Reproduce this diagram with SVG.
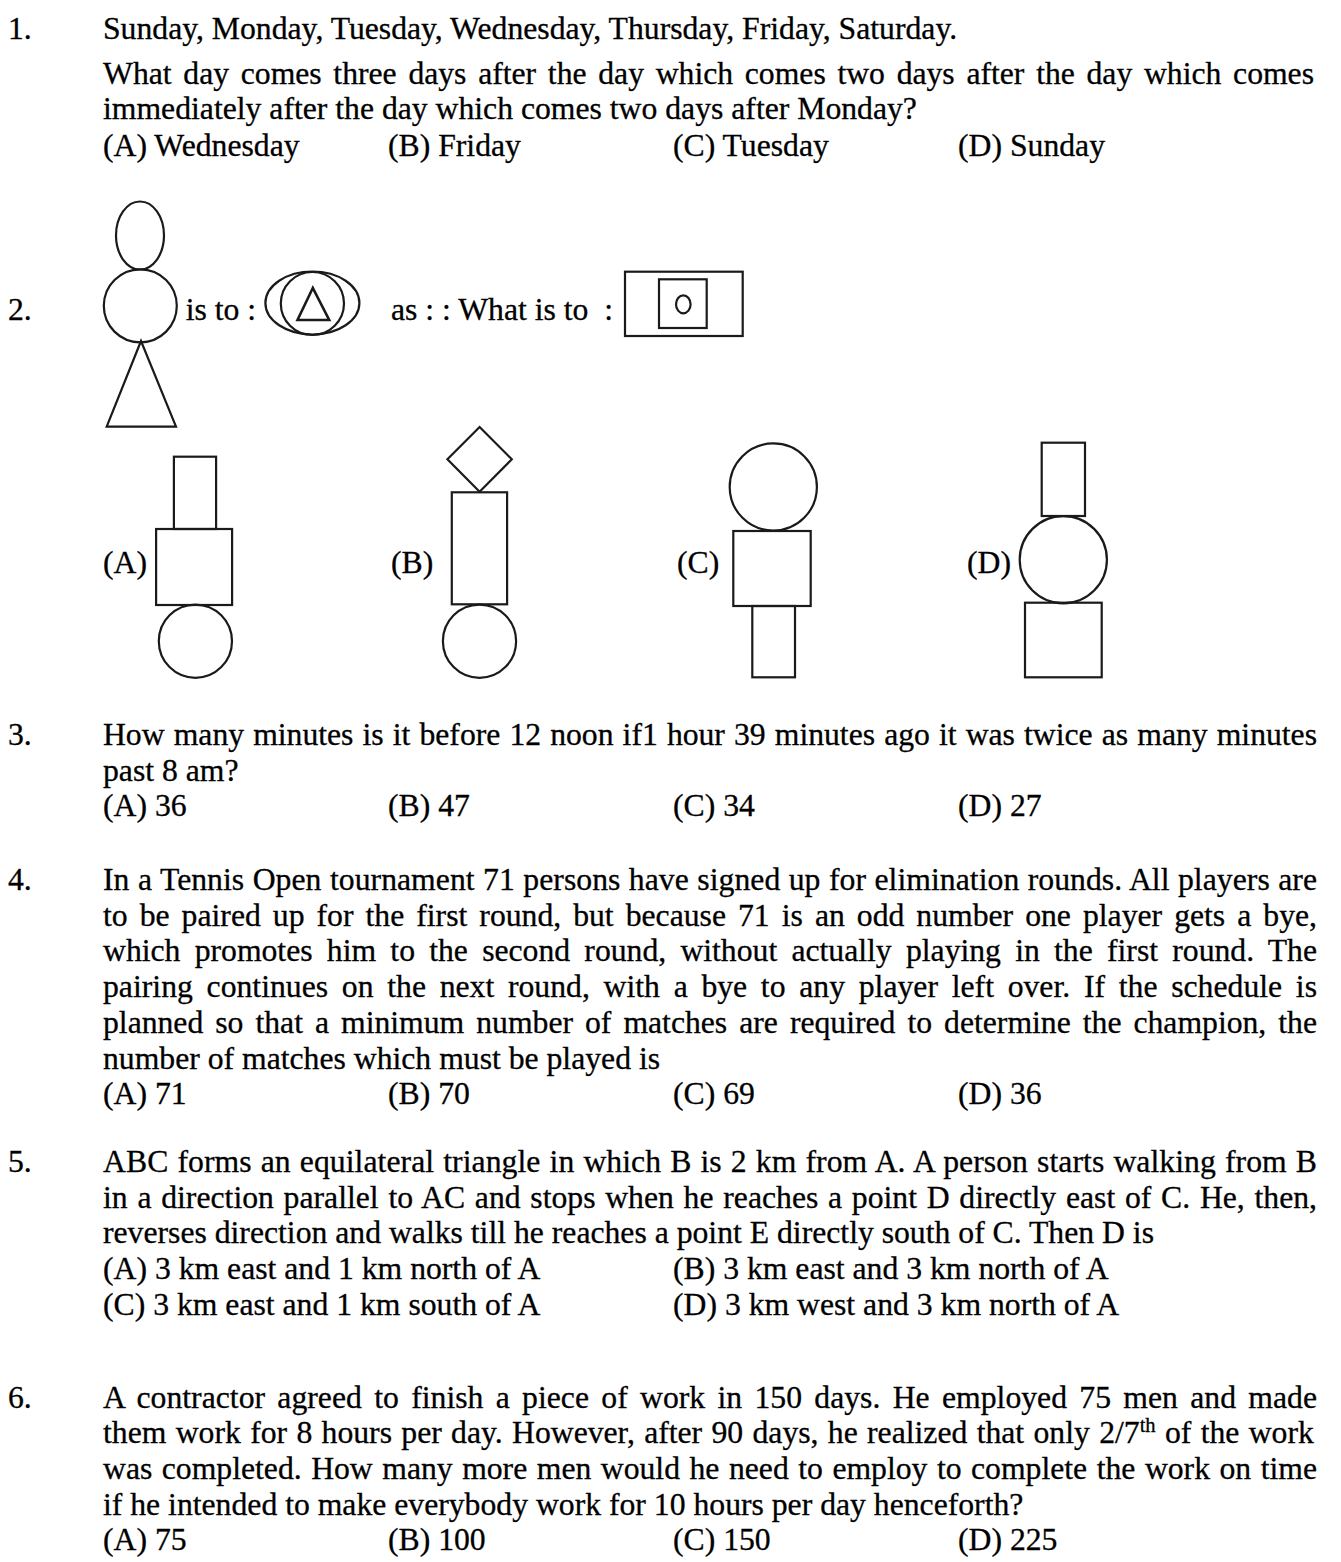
<svg xmlns="http://www.w3.org/2000/svg" width="1341" height="1562" viewBox="0 0 1341 1562">
<style>
.t{font-family:"Liberation Serif","Times New Roman",serif;font-size:31.7px;fill:#000;stroke:#000;stroke-width:0.3}
.s{fill:none;stroke:#1a1a1a;stroke-width:2.2}
.sb{fill:none;stroke:#1a1a1a;stroke-width:2.6}
</style>
<rect width="1341" height="1562" fill="#fff"/>
<g id="q1">
<text class="t" x="8" y="39">1.</text>
<text class="t" x="103" y="39">Sunday, Monday, Tuesday, Wednesday, Thursday, Friday, Saturday.</text>
<text class="t" x="103" y="84" word-spacing="3.8" textLength="1211" lengthAdjust="spacing">What day comes three days after the day which comes two days after the day which comes</text>
<text class="t" x="103" y="119">immediately after the day which comes two days after Monday?</text>
<text class="t" x="103" y="156">(A) Wednesday</text>
<text class="t" x="388" y="156">(B) Friday</text>
<text class="t" x="673" y="156">(C) Tuesday</text>
<text class="t" x="958" y="156">(D) Sunday</text>
</g>
<g id="q2">
<text class="t" x="8" y="320">2.</text>
<g id="q2-figure-question">
<ellipse class="s" cx="140" cy="235.5" rx="24" ry="34"/>
<circle class="s" cx="140.3" cy="305.8" r="36.5"/>
<polygon class="s" points="141,341 106.7,426.7 176,426.7"/>
</g>
<text class="t" x="185.7" y="320">is to :</text>
<g id="q2-figure-ellipses">
<ellipse class="s" cx="312.4" cy="303" rx="47" ry="31.5"/>
<ellipse class="s" cx="312.4" cy="303.5" rx="31.6" ry="31.5"/>
<polygon class="sb" points="312.8,288 297.5,320 329.2,320"/>
</g>
<text class="t" x="391" y="320">as : : What is to &#160;:</text>
<g id="q2-figure-box">
<rect class="s" x="625" y="271.7" width="117.7" height="64.3"/>
<rect class="s" x="659" y="279.3" width="47.7" height="48.7"/>
<ellipse class="s" cx="683.3" cy="304.3" rx="7.3" ry="9"/>
</g>
<g id="q2-option-a">
<text class="t" x="103" y="573">(A)</text>
<rect class="s" x="173.9" y="456.7" width="42.2" height="72.3"/>
<rect class="s" x="156.1" y="529" width="76" height="76"/>
<circle class="s" cx="195.4" cy="641.2" r="36.6"/>
</g>
<g id="q2-option-b">
<text class="t" x="391" y="573">(B)</text>
<polygon class="s" points="479.6,427 511.8,459.3 479.6,491.7 447.4,459.3"/>
<rect class="s" x="451.8" y="492.3" width="55.3" height="112"/>
<circle class="s" cx="479.5" cy="641.2" r="36.6"/>
</g>
<g id="q2-option-c">
<text class="t" x="677" y="573">(C)</text>
<circle class="s" cx="773.3" cy="487" r="43.6"/>
<rect class="s" x="733.3" y="531" width="77.4" height="75"/>
<rect class="s" x="752.3" y="606" width="42.7" height="71.3"/>
</g>
<g id="q2-option-d">
<text class="t" x="967" y="573">(D)</text>
<rect class="s" x="1041.7" y="442.7" width="43.3" height="73.3"/>
<circle class="s" cx="1063.3" cy="559.7" r="43.6"/>
<rect class="s" x="1025" y="602.7" width="76.7" height="74.6"/>
</g>
</g>
<g id="q3">
<text class="t" x="8" y="745">3.</text>
<text class="t" x="103" y="745" word-spacing="1.2" textLength="1214" lengthAdjust="spacing">How many minutes is it before 12 noon if1 hour 39 minutes ago it was twice as many minutes</text>
<text class="t" x="103" y="780.5">past 8 am?</text>
<text class="t" x="103" y="816">(A) 36</text>
<text class="t" x="388" y="816">(B) 47</text>
<text class="t" x="673" y="816">(C) 34</text>
<text class="t" x="958" y="816">(D) 27</text>
</g>
<g id="q4">
<text class="t" x="8" y="890">4.</text>
<text class="t" x="103" y="890" word-spacing="0.5" textLength="1214" lengthAdjust="spacing">In a Tennis Open tournament 71 persons have signed up for elimination rounds. All players are</text>
<text class="t" x="103" y="925.7" word-spacing="4.1" textLength="1214" lengthAdjust="spacing">to be paired up for the first round, but because 71 is an odd number one player gets a bye,</text>
<text class="t" x="103" y="961.4" word-spacing="6.3" textLength="1214" lengthAdjust="spacing">which promotes him to the second round, without actually playing in the first round. The</text>
<text class="t" x="103" y="997.1" word-spacing="5.75" textLength="1214" lengthAdjust="spacing">pairing continues on the next round, with a bye to any player left over. If the schedule is</text>
<text class="t" x="103" y="1032.8" word-spacing="4.1" textLength="1214" lengthAdjust="spacing">planned so that a minimum number of matches are required to determine the champion, the</text>
<text class="t" x="103" y="1068.5">number of matches which must be played is</text>
<text class="t" x="103" y="1104.2">(A) 71</text>
<text class="t" x="388" y="1104.2">(B) 70</text>
<text class="t" x="673" y="1104.2">(C) 69</text>
<text class="t" x="958" y="1104.2">(D) 36</text>
</g>
<g id="q5">
<text class="t" x="8" y="1172">5.</text>
<text class="t" x="103" y="1172" word-spacing="1.1" textLength="1214" lengthAdjust="spacing">ABC forms an equilateral triangle in which B is 2 km from A. A person starts walking from B</text>
<text class="t" x="103" y="1207.7" word-spacing="1.8" textLength="1214" lengthAdjust="spacing">in a direction parallel to AC and stops when he reaches a point D directly east of C. He, then,</text>
<text class="t" x="103" y="1243.4">reverses direction and walks till he reaches a point E directly south of C. Then D is</text>
<text class="t" x="103" y="1279.1">(A) 3 km east and 1 km north of A</text>
<text class="t" x="673" y="1279.1">(B) 3 km east and 3 km north of A</text>
<text class="t" x="103" y="1314.8">(C) 3 km east and 1 km south of A</text>
<text class="t" x="673" y="1314.8">(D) 3 km west and 3 km north of A</text>
</g>
<g id="q6">
<text class="t" x="8" y="1407.5">6.</text>
<text class="t" x="103" y="1407.5" word-spacing="4.35" textLength="1214" lengthAdjust="spacing">A contractor agreed to finish a piece of work in 150 days. He employed 75 men and made</text>
<text class="t" x="103" y="1443.2" word-spacing="1.4">them work for 8 hours per day. However, after 90 days, he realized that only 2/7<tspan font-size="20.6" dy="-11">th</tspan><tspan dy="11"> of the work</tspan></text>
<text class="t" x="103" y="1478.9" word-spacing="1.6" textLength="1214" lengthAdjust="spacing">was completed. How many more men would he need to employ to complete the work on time</text>
<text class="t" x="103" y="1514.6">if he intended to make everybody work for 10 hours per day henceforth?</text>
<text class="t" x="103" y="1550.3">(A) 75</text>
<text class="t" x="388" y="1550.3">(B) 100</text>
<text class="t" x="673" y="1550.3">(C) 150</text>
<text class="t" x="958" y="1550.3">(D) 225</text>
</g>
</svg>
